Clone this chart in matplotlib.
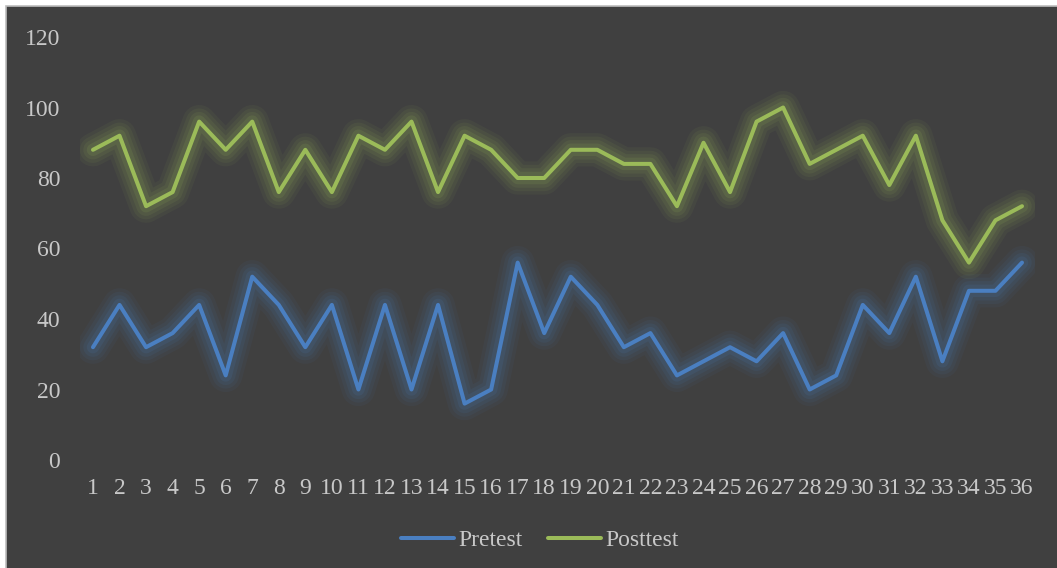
import matplotlib
matplotlib.use("Agg")
import matplotlib.pyplot as plt
from matplotlib.patches import Rectangle

# student scores
students = list(range(1, 37))
pretest = [32, 44, 32, 36, 44, 24, 52, 44, 32, 44, 20, 44, 20, 44, 16, 20, 56, 36,
           52, 44, 32, 36, 24, 28, 32, 28, 36, 20, 24, 44, 36, 52, 28, 48, 48, 56]
posttest = [88, 92, 72, 76, 96, 88, 96, 76, 88, 76, 92, 88, 96, 76, 92, 88, 80, 80,
            88, 88, 84, 84, 72, 90, 76, 96, 100, 84, 88, 92, 78, 92, 68, 56, 68, 72]
y_ticks = [0, 20, 40, 60, 80, 100, 120]

BG = "#404040"
TXT = "#c8c8c8"
BLUE = "#4a7fc1"
GREEN = "#9bbb59"

plt.rcParams['font.family'] = ['Liberation Serif', 'DejaVu Serif']

W, H = 1057, 568
fig = plt.figure(figsize=(W / 100, H / 100), dpi=100, facecolor="white")
# dark chart area, light edge only on top and left
fig.patches.append(Rectangle((6 / W, -0.02), 1.02, 1.02 - 6 / H,
                             transform=fig.transFigure, facecolor=BG,
                             edgecolor="#bdbdbd", linewidth=1.2, zorder=-10))

# plot area in pixels: x 79.7..1035.3, y(0)=460, y(120)=37
x0, x1 = 79.7, 1035.3
ax = fig.add_axes([x0 / W, (H - 460) / H, (x1 - x0) / W, (460 - 37) / H])
ax.set_facecolor("none")
ax.set_xlim(0.5, 36.5)
ax.set_ylim(0, 120)


def glow_line(x, y, color, label):
    # soft halo from a few wide translucent strokes
    for lw, a in [(24, 0.06), (19, 0.07), (14, 0.09), (9, 0.12)]:
        ax.plot(x, y, color=color, lw=lw, alpha=a, solid_joinstyle="round",
                solid_capstyle="round")
    ax.plot(x, y, color=color, lw=2.9, solid_joinstyle="round",
            solid_capstyle="round", label=label)


glow_line(students, pretest, BLUE, "Pretest")
glow_line(students, posttest, GREEN, "Posttest")

for s in ax.spines.values():
    s.set_visible(False)
ax.set_xticks(students)
ax.set_xticklabels([str(s) for s in students])
ax.set_yticks(y_ticks)
ax.tick_params(axis="both", length=0, colors=TXT, labelsize=17)
ax.tick_params(axis="x", pad=13)
ax.tick_params(axis="y", pad=14)

leg = fig.legend(loc="center", bbox_to_anchor=(540 / W, 1 - 540 / H), ncol=2,
                 frameon=False, fontsize=17, handlelength=2.25, handletextpad=0.2,
                 columnspacing=1.05, labelcolor=TXT)

fig.savefig("out.png", dpi=100, facecolor="white")
